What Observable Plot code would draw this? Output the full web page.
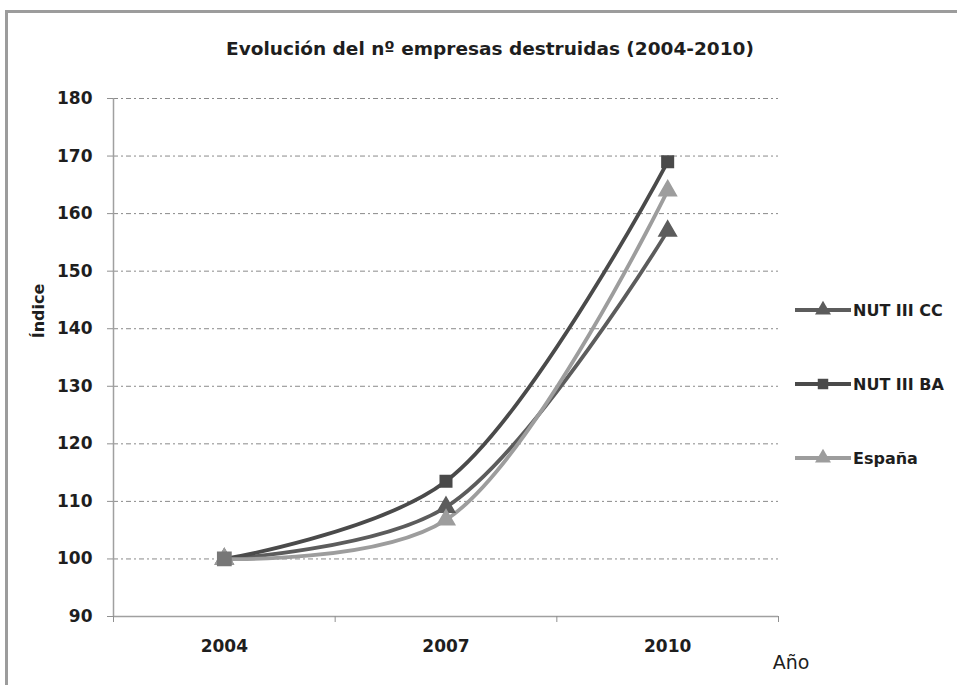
<!DOCTYPE html>
<html><head><meta charset="utf-8">
<script src="https://cdn.jsdelivr.net/npm/d3@7"></script>
<script src="https://cdn.jsdelivr.net/npm/@observablehq/plot@0.6"></script>
<style>
body{margin:0;background:#fff;font-family:"DejaVu Sans",sans-serif;}
#wrap{position:relative;width:957px;height:685px;overflow:hidden;background:#fff;}
#frame{position:absolute;left:5px;top:10px;width:1000px;height:1000px;border:3px solid #9c9c9c;box-sizing:border-box;}
#chart{position:absolute;left:0;top:0;}
#title{position:absolute;top:38px;left:0;width:980px;text-align:center;font-size:18.5px;font-weight:700;color:#1e1e1e;}
.lbl{position:absolute;font-size:16px;font-weight:700;color:#1e1e1e;white-space:nowrap;}
#ylab{left:38px;top:311px;transform:translate(-50%,-50%) rotate(-90deg);}
#xlab{left:791px;top:662px;transform:translate(-50%,-50%);font-weight:400;font-size:19px;}
#legend{position:absolute;left:0;top:0;}
</style></head><body>
<div id="wrap"><div id="frame"></div><div id="chart"></div>
<div id="title">Evolución del nº empresas destruidas (2004-2010)</div>
<div id="ylab" class="lbl">Índice</div>
<div id="xlab" class="lbl">Año</div>
<svg id="legend" width="957" height="685"></svg>
</div>
<script>
const years = [2004, 2007, 2010];
const seriesNames = ["NUT III CC", "NUT III BA", "España"];
const valuesCC = [100, 109, 157];
const valuesBA = [100, 113.5, 169];
const valuesES = [100, 106.8, 164];
const yTicks = [90, 100, 110, 120, 130, 140, 150, 160, 170, 180];
const seriesColors = ["#5c5c5c", "#4a4a4a", "#9d9d9d"];
const seriesSymbols = ["triangle", "square", "triangle"];
const drawOrder = ["NUT III BA", "NUT III CC", "España"];

const allValues = [valuesCC, valuesBA, valuesES];
const data = [];
seriesNames.forEach((s, i) => years.forEach((y, j) => data.push({serie: s, year: y, value: allValues[i][j]})));
const dotData = drawOrder.flatMap(s => data.filter(d => d.serie === s));
const startData = data.filter(d => d.year === years[0] && d.serie === "NUT III BA");

const step = years[1] - years[0];
const bounds = years.map(y => y - step / 2).concat([years[years.length - 1] + step / 2]);
const FONT = "'DejaVu Sans', sans-serif";

const chart = Plot.plot({
  width: 957, height: 685,
  marginLeft: 113, marginRight: 179, marginTop: 98, marginBottom: 69,
  style: {fontFamily: FONT, background: "transparent"},
  x: {domain: [bounds[0], bounds[bounds.length - 1]], axis: null},
  y: {domain: [yTicks[0], yTicks[yTicks.length - 1]], axis: null},
  color: {domain: seriesNames, range: seriesColors},
  symbol: {domain: seriesNames, range: seriesSymbols},
  marks: [
    Plot.ruleY(yTicks.slice(1), {stroke: "#8a8a8a", strokeWidth: 1, strokeDasharray: "5,3,2,3"}),
    Plot.ruleY([yTicks[0]], {stroke: "#a0a0a0", strokeWidth: 1.5}),
    Plot.ruleX([bounds[0]], {stroke: "#a0a0a0", strokeWidth: 1.5}),
    Plot.axisY(yTicks, {tickSize: 6, tickPadding: 15, fontSize: 17, fontWeight: "bold", stroke: "#909090", fill: "#1e1e1e", label: null}),
    Plot.axisX(bounds, {tickSize: 6, tickFormat: () => "", stroke: "#909090", label: null}),
    Plot.axisX(years, {tickSize: 0, tickPadding: 23, fontSize: 17, fontWeight: "bold", fill: "#1e1e1e", tickFormat: d => String(d), label: null}),
    Plot.line(data, {x: "year", y: "value", z: "serie", stroke: "serie", strokeWidth: 3.8, curve: "catmull-rom"}),
    Plot.dot(dotData, {x: "year", y: "value", symbol: "serie", fill: "serie", stroke: "serie", r: 6.5}),
    Plot.dot(startData, {x: "year", y: "value", symbol: "square", fill: "#777", stroke: "#777", r: 7.5})
  ]
});
document.getElementById("chart").appendChild(chart);

// legend
const legendRows = [310, 384, 458];
const lg = d3.select("#legend");
seriesNames.forEach((s, i) => {
  const g = lg.append("g").attr("transform", `translate(0,${legendRows[i]})`);
  g.append("line").attr("x1", 795).attr("x2", 851).attr("y1", 0).attr("y2", 0)
    .attr("stroke", seriesColors[i]).attr("stroke-width", 3.8);
  const sym = seriesSymbols[i] === "square" ? d3.symbolSquare : d3.symbolTriangle;
  g.append("path").attr("d", d3.symbol(sym, 110)()).attr("transform", "translate(823,0)")
    .attr("fill", seriesColors[i]);
  g.append("text").attr("x", 853).attr("y", 0).attr("dy", "0.35em")
    .attr("font-size", 16).attr("font-weight", 700).attr("fill", "#1e1e1e")
    .attr("font-family", FONT).text(s);
});
</script>
</body></html>
